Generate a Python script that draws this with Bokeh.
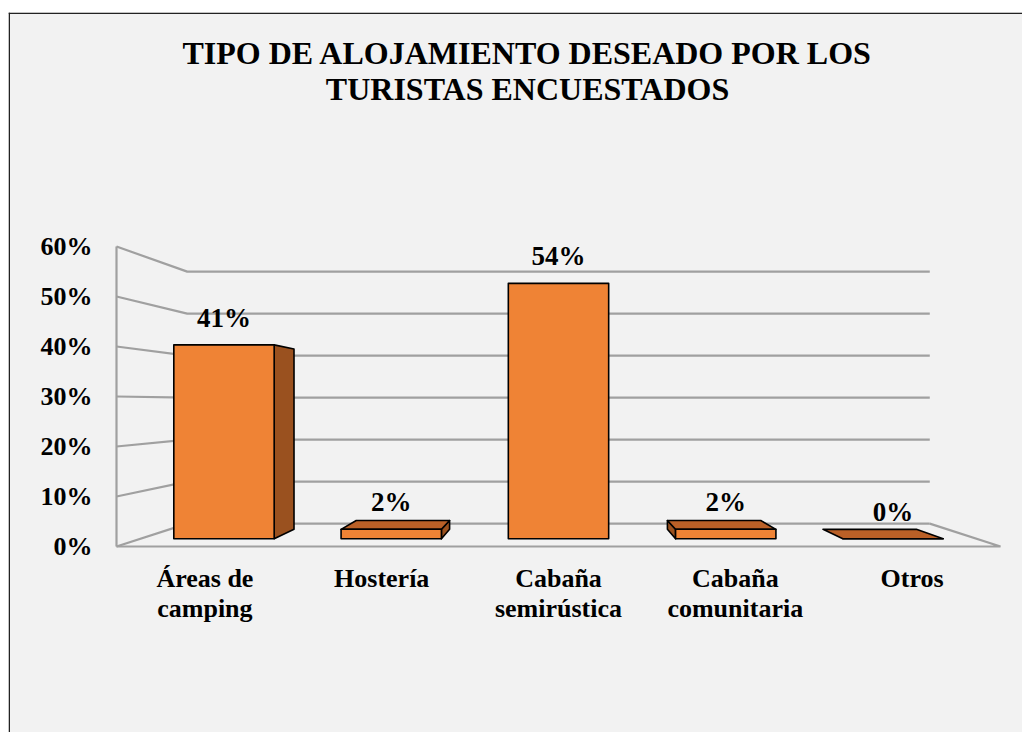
import numpy as np
from bokeh.plotting import figure
from bokeh.models import Range1d, Span
from bokeh.core.properties import value
from bokeh.embed import file_html
from bokeh.resources import INLINE

# ---------------- data ----------------
categories = ["Áreas de\ncamping", "Hostería", "Cabaña\nsemirústica", "Cabaña\ncomunitaria", "Otros"]
values = [41, 2, 54, 2, 0]
value_labels = ["41%", "2%", "54%", "2%", "0%"]
ticks = [0, 10, 20, 30, 40, 50, 60]
tick_labels = ["0%", "10%", "20%", "30%", "40%", "50%", "60%"]
title_lines = ["TIPO DE ALOJAMIENTO DESEADO POR LOS", "TURISTAS ENCUESTADOS"]

# ---------------- layout ----------------
W, H = 1022, 732
LEFT, TOP = 8, 12          # white strip outside the chart box
PX_X = 176.8               # pixels per category
PX_Y = 5.0                 # pixels per percent
ORIG_X, ORIG_Y = 116, 546  # pixel position of (category 0 edge, 0%)

FONT = value("Liberation Serif")
GRID = "#A0A0A0"
FRONT = "#EF8335"
SIDE = "#9A511F"
TOPC = "#BA6027"


def dx(px):
    return (px - ORIG_X) / PX_X


def dy(py):
    return (ORIG_Y - py) / PX_Y


p = figure(width=W, height=H,
           x_range=Range1d(dx(LEFT), dx(W)),
           y_range=Range1d(dy(H), dy(TOP)),
           output_backend="svg", toolbar_location=None,
           x_axis_location=None, y_axis_location=None,
           min_border_left=LEFT, min_border_right=0, min_border_bottom=0, min_border_top=TOP,
           background_fill_color="#F2F2F2", border_fill_color="white",
           outline_line_color=None)
p.grid.visible = False

# perspective projection in data space
n = len(categories)
XV, YV = n / 2.0, 28.6
S_WALL, S_FRONT, S_BACK = 0.84, 0.946, 0.88


def proj(x, y, s):
    x = np.asarray(x, dtype=float)
    y = np.asarray(y, dtype=float)
    return XV + (x - XV) * s, YV + (y - YV) * s


# ---------------- walls / grid ----------------
gx, gy = [], []
for t in ticks:
    bx, by = proj([0, n], [t, t], S_WALL)
    gx.append([0, bx[0], bx[1]])
    gy.append([t, by[0], by[1]])
gx.append([0, 0]); gy.append([0, ticks[-1]])
fbx, fby = proj([n], [0], S_WALL)
gx.append([0, n, fbx[0]]); gy.append([0, 0, fby[0]])
p.multi_line(gx, gy, line_color=GRID, line_width=2.2)

# ---------------- bars ----------------
side_x, side_y, top_x, top_y, front_x, front_y = [], [], [], [], [], []
W_BAR = 0.6
for i, v in enumerate(values):
    b0 = i + (1 - W_BAR) / 2
    b1 = i + (1 + W_BAR) / 2
    fx, fy = proj([b0, b1, b1, b0], [0, 0, v, v], S_FRONT)
    front_x.append(list(fx)); front_y.append(list(fy))
    edge = None
    if b1 < XV:
        edge = b1
    elif b0 > XV:
        edge = b0
    if edge is not None and v > 0:
        ax, ay = proj([edge, edge], [0, v], S_FRONT)
        cx, cy = proj([edge, edge], [v, 0], S_BACK)
        side_x.append(list(ax) + list(cx)); side_y.append(list(ay) + list(cy))
    if v < YV:
        ax, ay = proj([b0, b1], [v, v], S_FRONT)
        cx, cy = proj([b1, b0], [v, v], S_BACK)
        top_x.append(list(ax) + list(cx)); top_y.append(list(ay) + list(cy))

p.patches(side_x, side_y, fill_color=SIDE, line_color="black", line_width=1.6, line_join="round")
p.patches(top_x, top_y, fill_color=TOPC, line_color="black", line_width=1.6, line_join="round")
p.patches(front_x, front_y, fill_color=FRONT, line_color="black", line_width=1.6, line_join="round")

# ---------------- data labels ----------------
lx, ly = proj([i + 0.5 for i in range(n)], values, S_FRONT)
p.text(x=list(lx), y=list(ly + 27 / PX_Y), text=value_labels, text_font=FONT,
       text_font_style="bold", text_font_size="27px", text_align="center",
       text_baseline="middle", text_color="black")

# ---------------- tick labels ----------------
p.text(x=[dx(92)] * len(ticks), y=ticks, text=tick_labels, text_font=FONT,
       text_font_style="bold", text_font_size="26px", text_align="right",
       text_baseline="middle", text_color="black")

# ---------------- category labels ----------------
line1 = [c.split("\n")[0] for c in categories]
line2 = [c.split("\n")[1] if "\n" in c else "" for c in categories]
cx = [i + 0.5 for i in range(n)]
p.text(x=cx, y=[dy(578)] * n, text=line1, text_font=FONT, text_font_style="bold",
       text_font_size="26px", text_align="center", text_baseline="middle", text_color="black")
p.text(x=cx, y=[dy(608)] * n, text=line2, text_font=FONT, text_font_style="bold",
       text_font_size="26px", text_align="center", text_baseline="middle", text_color="black")

# ---------------- title ----------------
tx = dx(527)
p.text(x=[tx, tx], y=[dy(52), dy(88)], text=title_lines, text_font=FONT,
       text_font_style="bold", text_font_size="32px", text_align="center",
       text_baseline="middle", text_color="black")

# chart-area border (left and top)
p.add_layout(Span(location=dx(LEFT + 0.75), dimension="height", line_color="#222222", line_width=1.5))
p.add_layout(Span(location=dy(TOP + 0.75), dimension="width", line_color="#222222", line_width=1.5))

open("out.html", "w").write(file_html(p, INLINE))
